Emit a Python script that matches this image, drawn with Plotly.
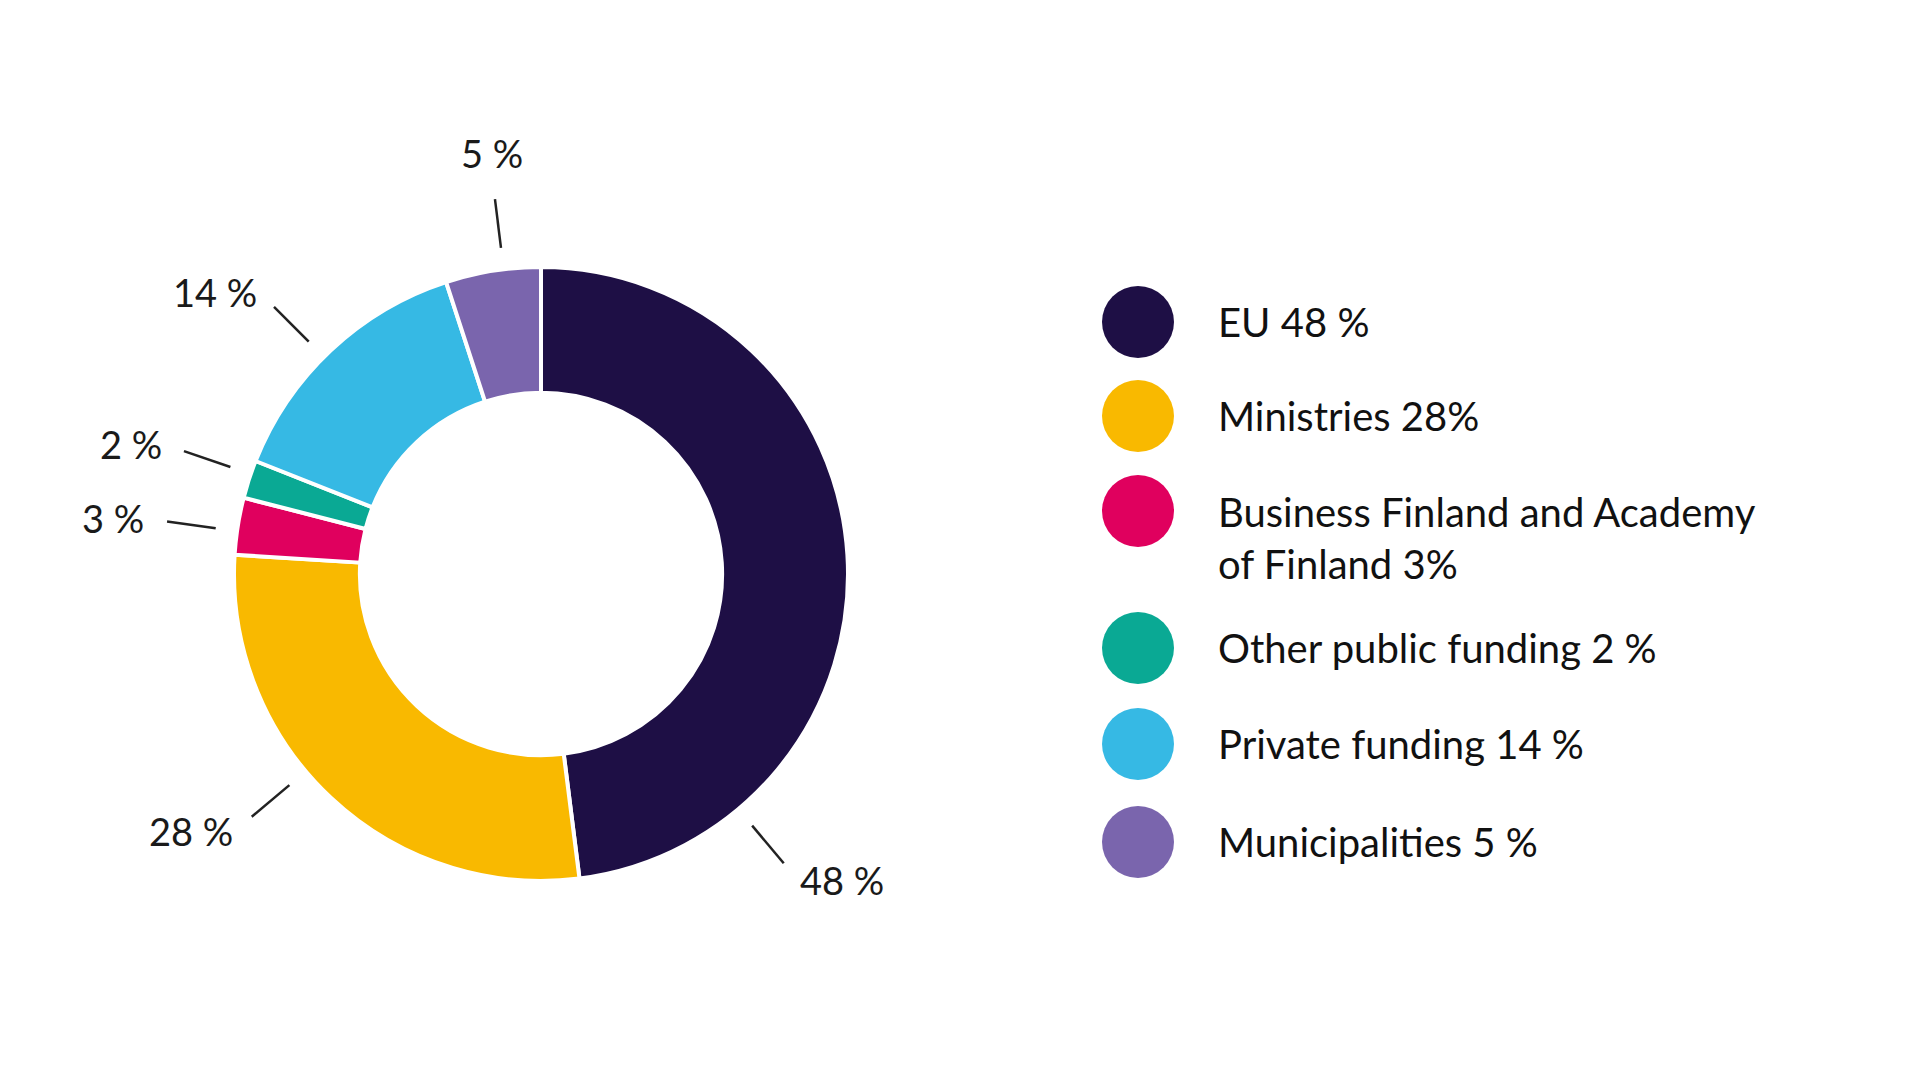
import math
import plotly.graph_objects as go

labels = ["EU", "Ministries", "Business Finland and Academy of Finland",
          "Other public funding", "Private funding", "Municipalities"]
values = [48, 28, 3, 2, 14, 5]
slice_text = ["48 %", "28 %", "3 %", "2 %", "14 %", "5 %"]
legend_text = ["EU 48 %", "Ministries 28%", "Business Finland and Academy<br>of Finland 3%",
               "Other public funding 2 %", "Private funding 14 %", "Municipalities 5 %"]
colors = ["#1e0f45", "#f9b900", "#e0005e", "#0aa994", "#36b9e4", "#7a65ad"]

# label directions (degrees clockwise from 12 o'clock), hand placed like the original
label_angle = [140, 230, -82, -71, -45, -7]

W, H = 1920, 1080
cx, cy, R = 533, 566, 307
font = "Lato"

fig = go.Figure(go.Pie(
    labels=labels, values=values, sort=False, direction="clockwise",
    hole=0.59, marker=dict(colors=colors, line=dict(color="white", width=4)),
    textinfo="none", hoverinfo="label+percent", showlegend=False,
    domain=dict(x=[(cx - R) / W, (cx + R) / W], y=[1 - (cy + R) / H, 1 - (cy - R) / H]),
))

def px(x, y):
    return x / W, 1 - y / H

shapes, anns = [], []
for txt, a in zip(slice_text, label_angle):
    t = math.radians(a)
    dx, dy = math.sin(t), -math.cos(t)
    x0, y0 = px(cx + 1.07 * R * dx, cy + 1.07 * R * dy)
    x1, y1 = px(cx + 1.23 * R * dx, cy + 1.23 * R * dy)
    shapes.append(dict(type="line", xref="paper", yref="paper", x0=x0, y0=y0, x1=x1, y1=y1,
                       line=dict(color="#222", width=2.5)))
    tx, ty = px(cx + 1.30 * R * dx, cy + 1.30 * R * dy)
    if abs(dx) < 0.3:
        xa = "center"
    else:
        xa = "left" if dx > 0 else "right"
    if abs(dy) > 0.9:
        ty = px(0, cy + 1.38 * R * dy)[1]
    anns.append(dict(x=tx, y=ty, xref="paper", yref="paper", text=txt, showarrow=False,
                     xanchor=xa, yanchor="middle", font=dict(size=38, color="#1a1a1a", family=font)))

legend_y = [314, 408, 503, 640, 736, 834]
for c, txt, ly in zip(colors, legend_text, legend_y):
    x0, y0 = px(1094, ly - 36)
    x1, y1 = px(1166, ly + 36)
    shapes.append(dict(type="circle", xref="paper", yref="paper", x0=x0, y0=y0, x1=x1, y1=y1,
                       fillcolor=c, line=dict(width=0)))
    tx, ty = px(1208, ly)
    if "<br>" in txt:
        ty = px(0, ly + 27)[1]
    anns.append(dict(x=tx, y=ty, xref="paper", yref="paper", text=txt, showarrow=False,
                     xanchor="left", yanchor="middle", align="left",
                     font=dict(size=40, color="#111", family=font)))

fig.update_layout(width=W, height=H, margin=dict(l=0, r=0, t=0, b=0),
                  paper_bgcolor="white", plot_bgcolor="white",
                  shapes=shapes, annotations=anns)
fig.write_html("out.html")
